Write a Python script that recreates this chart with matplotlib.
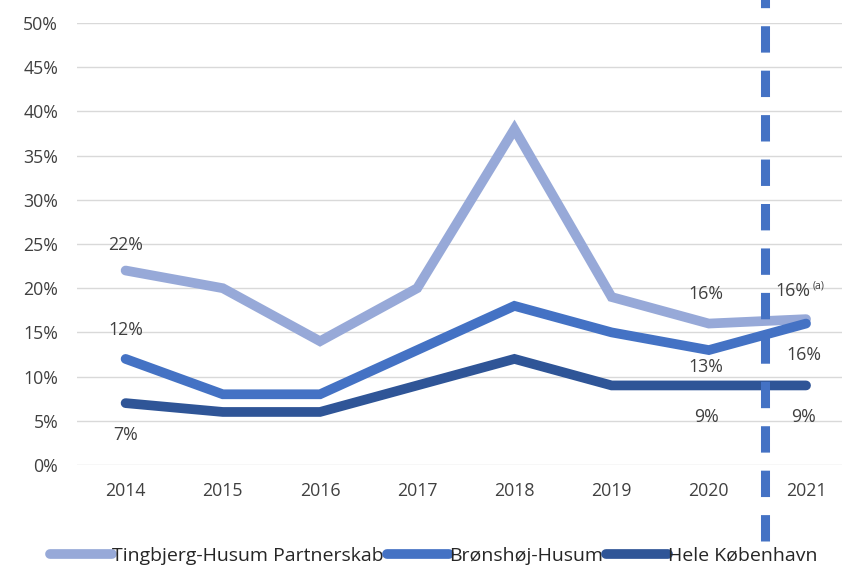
import matplotlib.pyplot as plt
import matplotlib.ticker as mticker

plt.rcParams['font.family'] = ['Open Sans', 'DejaVu Sans']
plt.rcParams['lines.scale_dashes'] = False

years = ['2014', '2015', '2016', '2017', '2018', '2019', '2020', '2021']
tingbjerg = [22, 20, 14, 20, 38, 19, 16, 16.5]
bronshoj = [12, 8, 8, 13, 18, 15, 13, 16]
kobenhavn = [7, 6, 6, 9, 12, 9, 9, 9]

names = ['Tingbjerg-Husum Partnerskab', 'Brønshøj-Husum', 'Hele København']
colors = ['#97a9d8', '#4472c4', '#2f5597']

fig = plt.figure(figsize=(8.42, 5.67), dpi=100)
ax = fig.add_axes([77 / 842, 102 / 567, 765 / 842, 442 / 567])

x = list(range(len(years)))
for vals, name, c in zip([tingbjerg, bronshoj, kobenhavn], names, colors):
    ax.plot(x, vals, color=c, lw=7, label=name, solid_capstyle='round',
            solid_joinstyle='miter')

# dashed separator between 2020 and 2021
ax.plot([6.58, 6.58], [-8.6, 53], color='#4472c4', lw=6.5,
        linestyle=(0, (19, 13)), clip_on=False, zorder=5)

txt = dict(ha='center', va='center', fontsize=12.8, color='#404040')
ax.text(0, 24.9, '22%', **txt)
ax.text(0, 15.3, '12%', **txt)
ax.text(0, 3.4, '7%', **txt)
ax.text(5.97, 19.3, '16%', **txt)
ax.text(5.97, 11.1, '13%', **txt)
ax.text(5.98, 5.4, '9%', **txt)
ax.text(7.04, 19.7, '16%', ha='right', va='center', fontsize=12.8, color='#404040')
ax.text(7.065, 20.2, '(a)', ha='left', va='center', fontsize=7.5, color='#404040')
ax.text(6.98, 12.45, '16%', **txt)
ax.text(6.97, 5.4, '9%', **txt)

ax.set_xlim(-0.5, 7.37)
ax.set_ylim(0, 50)
ax.set_xticks(x)
ax.set_xticklabels(years)
ax.yaxis.set_major_locator(mticker.MultipleLocator(5))
ax.yaxis.set_major_formatter(mticker.FuncFormatter(lambda v, p: f'{v:.0f}%'))
ax.tick_params(length=0, labelsize=12.8, labelcolor='#404040')
ax.tick_params(axis='y', pad=13.5)
ax.tick_params(axis='x', pad=12.5)
ax.grid(axis='y', color='#d9d9d9', lw=1)
ax.set_axisbelow(True)
for s in ax.spines.values():
    s.set_visible(False)

leg = fig.legend(loc='center left', bbox_to_anchor=(50 / 842, 11 / 567), ncol=3,
                 frameon=False, fontsize=14, handlelength=3.2, handletextpad=0.0,
                 columnspacing=0.15, borderpad=0, borderaxespad=0,
                 labelcolor='#262626')

fig.savefig('out.png', dpi=100)
